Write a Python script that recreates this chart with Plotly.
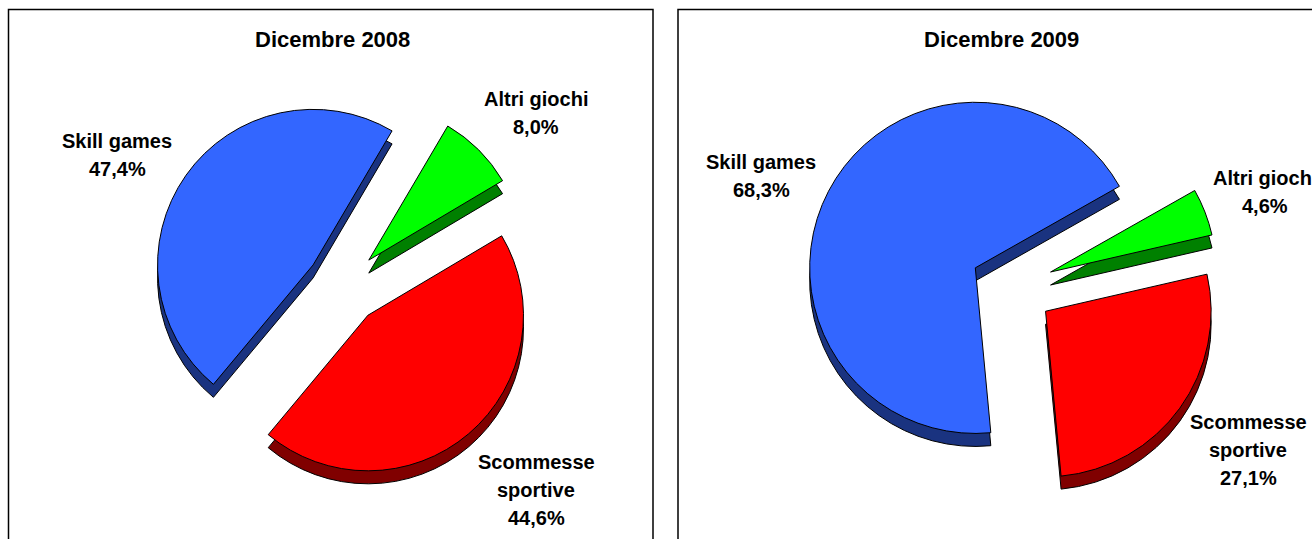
import plotly.graph_objects as go

W = 1312
H = 539

LABELS = ["Altri giochi", "Scommesse sportive", "Skill games"]
VALUES_2008 = [8.0, 44.6, 47.4]
VALUES_2009 = [4.6, 27.1, 68.3]
TITLES = ["Dicembre 2008", "Dicembre 2009"]
TEXT_2008 = ["Altri giochi<br>8,0%", "Scommesse<br>sportive<br>44,6%", "Skill games<br>47,4%"]
TEXT_2009 = ["Altri giochi<br>4,6%", "Scommesse<br>sportive<br>27,1%", "Skill games<br>68,3%"]

COLORS = ["#00ff00", "#ff0000", "#3366ff"]
DARK = ["#008000", "#800000", "#1a3380"]
FONT = "Liberation Sans"
PULL_2008 = [0.235, 0.247, 0.235]
PULL_2009 = [0.25, 0.25, 0.25]
DEPTH = 13


def dom(x0, x1, y0, y1):
    return dict(x=[x0 / W, x1 / W], y=[1 - y1 / H, 1 - y0 / H])


def add_pie(fig, values, box, rotation, pull):
    x0, x1, y0, y1 = box
    # darker copy shifted down gives the extruded edge
    fig.add_trace(go.Pie(
        labels=LABELS, values=values, sort=False, direction="clockwise", rotation=rotation,
        pull=pull, domain=dom(x0, x1, y0 + DEPTH, y1 + DEPTH), textinfo="none", showlegend=False,
        marker=dict(colors=DARK, line=dict(color="#000000", width=1)),
    ))
    fig.add_trace(go.Pie(
        labels=LABELS, values=values, sort=False, direction="clockwise", rotation=rotation,
        pull=pull, domain=dom(x0, x1, y0, y1), textinfo="none", showlegend=False,
        marker=dict(colors=COLORS, line=dict(color="#000000", width=1)),
    ))


fig = go.Figure()
add_pie(fig, VALUES_2008, (149, 537, 92, 480), 30.5, PULL_2008)
add_pie(fig, VALUES_2009, (805, 1219, 80, 494), 60.5, PULL_2009)

# chart frames
for x0, x1 in [(8.5, 653), (678, 1330)]:
    fig.add_shape(type="rect", xref="paper", yref="paper", x0=x0 / W, x1=x1 / W,
                  y0=-0.02, y1=1 - 9.5 / H, line=dict(color="#000000", width=1.5),
                  fillcolor="rgba(0,0,0,0)", layer="below")

for x, t in zip([332, 1001], TITLES):
    fig.add_annotation(text=f"<b>{t}</b>", x=x / W, y=1 - 40 / H, xref="paper", yref="paper",
                       showarrow=False, xanchor="center", yanchor="middle",
                       font=dict(family=FONT, size=22, color="#000000"))

# x centre, y of first line, text; one annotation per line to hold the 28px spacing
LABEL_X = [536, 536, 117, 1265, 1248, 761]
LABEL_Y = [99, 462, 141, 178, 422, 162]
LABEL_TEXT = TEXT_2008 + TEXT_2009
for x, y, t in zip(LABEL_X, LABEL_Y, LABEL_TEXT):
    for i, line in enumerate(t.split("<br>")):
        fig.add_annotation(text=f"<b>{line}</b>", x=x / W, y=1 - (y + 28 * i) / H,
                           xref="paper", yref="paper", showarrow=False,
                           xanchor="center", yanchor="middle",
                           font=dict(family=FONT, size=20, color="#000000"))

fig.update_layout(
    width=W, height=H, margin=dict(l=0, r=0, t=0, b=0),
    paper_bgcolor="white", plot_bgcolor="white", showlegend=False,
)
fig.write_html(
    "out.html",
    config={"displayModeBar": False},
    post_script="document.body.style.margin='0';document.body.style.overflow='hidden';",
)
